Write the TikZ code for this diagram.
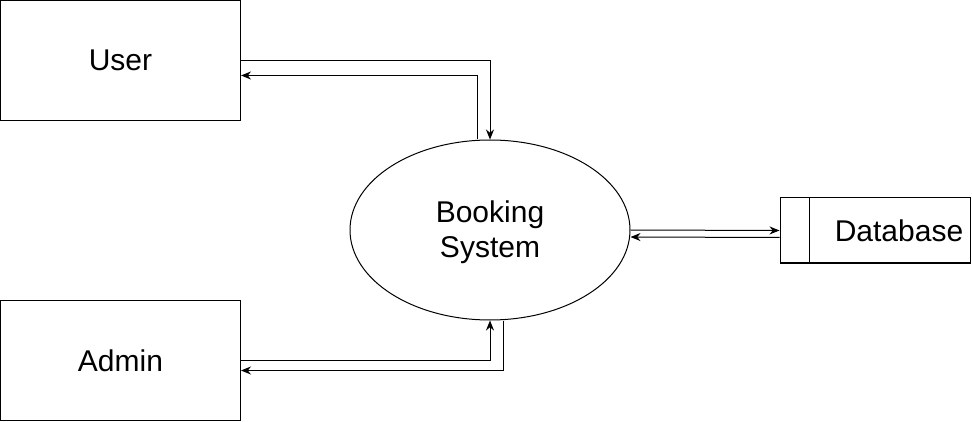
\documentclass[tikz,border=0pt]{standalone}
\usepackage{fontspec}
\setmainfont{Liberation Sans}
\usetikzlibrary{arrows.meta,shapes.geometric}
\begin{document}
\begin{tikzpicture}[x=1pt,y=-1pt,
  every node/.style={font=\fontsize{30}{35}\selectfont},
  entity/.style={draw,line width=1pt,minimum width=240pt,minimum height=120pt,inner sep=0pt},
  proc/.style={draw,line width=1pt,ellipse,minimum width=280pt,minimum height=180pt,inner sep=0pt},
  store/.style={draw,line width=1pt,minimum width=190pt,minimum height=65pt,inner sep=0pt},
  flow/.style={line width=1pt,-{Stealth[length=10pt,width=8pt]}}]
\useasboundingbox (0,0) rectangle (972,422);
\node[entity] (user) at (120.5,60.5) {User};
\node[entity] (admin) at (120.5,360.5) {Admin};
\node[proc] (bs) at (490,230) {};
\node[align=center] (bst) at (490,232) {Booking\\System};
\node[store] (db) at (875,230.5) {};
\draw[line width=1pt] ([xshift=30pt]db.north west) coordinate (dbl) -- ([xshift=30pt]db.south west) coordinate (dbb);
\node (dbt) at (899,231) {Database};
\draw[flow] (user.east) -| (bs.north);
\draw[flow] ([xshift=-13pt]bs.north) |- ([yshift=-15pt]user.east);
\draw[flow] (admin.east) -| (bs.south);
\draw[flow] ([xshift=13pt]bs.south) |- ([yshift=-10pt]admin.east);
\draw[flow] (bs.east) -- (db.west);
\draw[flow] ([yshift=-7pt]db.west) -- ([yshift=-7pt]bs.east);
\end{tikzpicture}
\end{document}
